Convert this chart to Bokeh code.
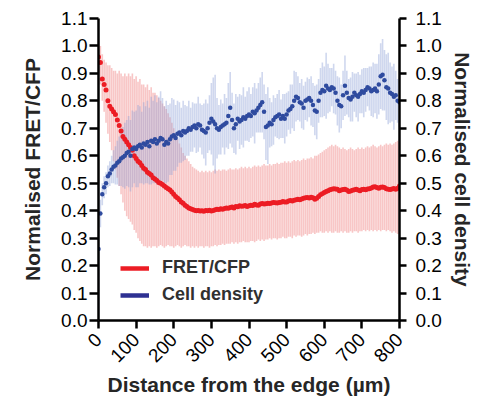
import numpy as np
from math import pi
from bokeh.plotting import figure
from bokeh.models import (LinearAxis, FixedTicker, PrintfTickFormatter, Range1d,
                          Legend, LegendItem, ColumnDataSource)
from bokeh.embed import file_html
from bokeh.resources import INLINE

# ---------------- data ----------------
distance_um = list(range(0, 805, 5))

fret_mean = [
    0.96, 0.94, 0.88, 0.86, 0.84, 0.80, 0.78, 0.77, 0.76, 0.75,
    0.73, 0.71, 0.69, 0.67, 0.66, 0.65, 0.64, 0.63, 0.62, 0.60,
    0.59, 0.58, 0.575, 0.565, 0.555, 0.55, 0.54, 0.535, 0.53, 0.52,
    0.515, 0.51, 0.503, 0.50, 0.495, 0.49, 0.484, 0.48, 0.475, 0.468,
    0.46, 0.452, 0.446, 0.44, 0.432, 0.427, 0.42, 0.415, 0.41, 0.407,
    0.404, 0.402, 0.40, 0.401, 0.399, 0.40, 0.398, 0.401, 0.40, 0.402,
    0.399, 0.401, 0.403, 0.405, 0.404, 0.407, 0.405, 0.408, 0.41, 0.409,
    0.412, 0.413, 0.41, 0.415, 0.414, 0.418, 0.416, 0.417, 0.419, 0.415,
    0.418, 0.42, 0.419, 0.423, 0.421, 0.42, 0.424, 0.426, 0.424, 0.425,
    0.427, 0.426, 0.428, 0.43, 0.429, 0.428, 0.43, 0.431, 0.433, 0.432,
    0.432, 0.435, 0.437, 0.435, 0.438, 0.44, 0.442, 0.44, 0.443, 0.445,
    0.447, 0.448, 0.446, 0.449, 0.447, 0.442, 0.445, 0.452, 0.458, 0.462,
    0.466, 0.47, 0.473, 0.476, 0.478, 0.48, 0.479, 0.478, 0.473, 0.475,
    0.477, 0.478, 0.475, 0.47, 0.472, 0.474, 0.476, 0.478, 0.475, 0.473,
    0.477, 0.478, 0.476, 0.479, 0.48, 0.483, 0.486, 0.487, 0.484, 0.482,
    0.485, 0.486, 0.484, 0.48, 0.478, 0.477, 0.479, 0.481, 0.478, 0.482,
    0.49,
]

fret_upper = [
    1.02, 1.00, 0.97, 0.95, 0.94, 0.93, 0.93, 0.92, 0.91, 0.91,
    0.90, 0.91, 0.90, 0.89, 0.90, 0.89, 0.90, 0.89, 0.90, 0.88,
    0.89, 0.87, 0.88, 0.86, 0.86, 0.85, 0.86, 0.84, 0.85, 0.83,
    0.83, 0.82, 0.81, 0.80, 0.79, 0.78, 0.77, 0.755, 0.74, 0.72,
    0.70, 0.68, 0.66, 0.645, 0.63, 0.61, 0.60, 0.59, 0.58, 0.57,
    0.56, 0.555, 0.55, 0.545, 0.54, 0.545, 0.54, 0.545, 0.54, 0.545,
    0.54, 0.545, 0.55, 0.545, 0.55, 0.545, 0.55, 0.55, 0.545, 0.55,
    0.555, 0.55, 0.55, 0.555, 0.55, 0.555, 0.56, 0.555, 0.56, 0.555,
    0.56, 0.555, 0.56, 0.565, 0.56, 0.565, 0.56, 0.565, 0.57, 0.565,
    0.565, 0.57, 0.565, 0.57, 0.57, 0.575, 0.57, 0.575, 0.575, 0.58,
    0.575, 0.58, 0.575, 0.58, 0.585, 0.58, 0.585, 0.58, 0.585, 0.59,
    0.585, 0.59, 0.59, 0.595, 0.59, 0.60, 0.60, 0.605, 0.61, 0.615,
    0.62, 0.625, 0.63, 0.635, 0.64, 0.635, 0.64, 0.635, 0.63, 0.625,
    0.63, 0.625, 0.62, 0.625, 0.63, 0.625, 0.62, 0.625, 0.63, 0.625,
    0.63, 0.625, 0.63, 0.635, 0.63, 0.635, 0.64, 0.635, 0.63, 0.635,
    0.64, 0.635, 0.64, 0.645, 0.64, 0.645, 0.64, 0.645, 0.65, 0.655,
    0.66,
]

fret_lower = [
    0.90, 0.86, 0.80, 0.76, 0.72, 0.68, 0.65, 0.62, 0.58, 0.55,
    0.52, 0.49, 0.46, 0.43, 0.40, 0.38, 0.37, 0.36, 0.35, 0.33,
    0.32, 0.30, 0.29, 0.28, 0.27, 0.27, 0.265, 0.27, 0.265, 0.27,
    0.27, 0.265, 0.27, 0.275, 0.27, 0.265, 0.27, 0.275, 0.27, 0.27,
    0.265, 0.27, 0.275, 0.27, 0.265, 0.27, 0.275, 0.27, 0.27, 0.265,
    0.27, 0.265, 0.27, 0.265, 0.27, 0.27, 0.265, 0.27, 0.27, 0.265,
    0.27, 0.27, 0.275, 0.27, 0.275, 0.275, 0.28, 0.275, 0.28, 0.28,
    0.28, 0.285, 0.28, 0.285, 0.28, 0.285, 0.285, 0.29, 0.285, 0.285,
    0.285, 0.29, 0.29, 0.285, 0.29, 0.295, 0.29, 0.295, 0.29, 0.295,
    0.295, 0.30, 0.295, 0.30, 0.30, 0.295, 0.30, 0.30, 0.305, 0.30,
    0.30, 0.305, 0.305, 0.30, 0.31, 0.305, 0.31, 0.31, 0.305, 0.31,
    0.315, 0.31, 0.315, 0.315, 0.32, 0.315, 0.32, 0.32, 0.325, 0.32,
    0.32, 0.325, 0.32, 0.325, 0.32, 0.32, 0.325, 0.32, 0.32, 0.325,
    0.32, 0.325, 0.32, 0.32, 0.325, 0.32, 0.325, 0.325, 0.32, 0.325,
    0.325, 0.33, 0.325, 0.33, 0.325, 0.33, 0.325, 0.33, 0.325, 0.33,
    0.325, 0.33, 0.33, 0.325, 0.33, 0.325, 0.32, 0.325, 0.32, 0.315,
    0.315,
]

density_mean = [
    0.26, 0.39, 0.46, 0.485, 0.50, 0.525, 0.535, 0.55, 0.56, 0.565,
    0.575, 0.58, 0.59, 0.595, 0.60, 0.61, 0.615, 0.60, 0.625, 0.63,
    0.625, 0.635, 0.64, 0.63, 0.645, 0.64, 0.65, 0.635, 0.655, 0.65,
    0.66, 0.645, 0.655, 0.665, 0.66, 0.64, 0.65, 0.645, 0.66, 0.67,
    0.675, 0.665, 0.68, 0.685, 0.675, 0.69, 0.685, 0.69, 0.70, 0.695,
    0.705, 0.71, 0.70, 0.715, 0.71, 0.695, 0.69, 0.685, 0.70, 0.72,
    0.735, 0.725, 0.715, 0.70, 0.695, 0.705, 0.71, 0.715, 0.72, 0.745,
    0.775, 0.73, 0.70, 0.715, 0.735, 0.725, 0.73, 0.74, 0.735, 0.745,
    0.75, 0.745, 0.76, 0.755, 0.765, 0.775, 0.785, 0.795, 0.76, 0.705,
    0.71, 0.72, 0.715, 0.73, 0.74, 0.745, 0.75, 0.735, 0.745, 0.735,
    0.75, 0.765, 0.77, 0.78, 0.80, 0.815, 0.81, 0.795, 0.79, 0.775,
    0.80, 0.805, 0.81, 0.80, 0.785, 0.765, 0.76, 0.80, 0.83, 0.84,
    0.835, 0.855, 0.845, 0.84, 0.85, 0.845, 0.83, 0.80, 0.785, 0.78,
    0.82, 0.855, 0.83, 0.81, 0.805, 0.815, 0.83, 0.82, 0.815, 0.825,
    0.835, 0.83, 0.84, 0.85, 0.845, 0.835, 0.84, 0.845, 0.835, 0.86,
    0.89, 0.895, 0.875, 0.85, 0.845, 0.83, 0.825, 0.815, 0.82, 0.80,
    0.795,
]

density_sd = [
    0.25, 0.05, 0.04, 0.04, 0.04, 0.04, 0.045, 0.05, 0.06, 0.07,
    0.08, 0.09, 0.10, 0.11, 0.12, 0.12, 0.13, 0.13, 0.14, 0.13,
    0.14, 0.15, 0.14, 0.13, 0.15, 0.14, 0.15, 0.14, 0.16, 0.15,
    0.16, 0.15, 0.16, 0.17, 0.15, 0.14, 0.15, 0.14, 0.13, 0.14,
    0.13, 0.12, 0.12, 0.11, 0.10, 0.11, 0.10, 0.09, 0.10, 0.08,
    0.09, 0.08, 0.09, 0.10, 0.08, 0.09, 0.10, 0.12, 0.09, 0.10,
    0.13, 0.16, 0.18, 0.11, 0.09, 0.10, 0.08, 0.11, 0.09, 0.12,
    0.13, 0.10, 0.09, 0.11, 0.08, 0.10, 0.09, 0.11, 0.08, 0.09,
    0.10, 0.08, 0.09, 0.11, 0.08, 0.09, 0.10, 0.11, 0.10, 0.12,
    0.14, 0.09, 0.08, 0.09, 0.07, 0.08, 0.09, 0.07, 0.08, 0.09,
    0.08, 0.07, 0.09, 0.08, 0.11, 0.09, 0.08, 0.07, 0.09, 0.08,
    0.07, 0.08, 0.07, 0.09, 0.08, 0.09, 0.10, 0.08, 0.09, 0.10,
    0.09, 0.12, 0.09, 0.08, 0.07, 0.09, 0.08, 0.09, 0.10, 0.08,
    0.09, 0.11, 0.08, 0.07, 0.08, 0.09, 0.07, 0.08, 0.09, 0.07,
    0.08, 0.09, 0.08, 0.07, 0.08, 0.09, 0.10, 0.09, 0.10, 0.11,
    0.12, 0.13, 0.11, 0.12, 0.13, 0.11, 0.10, 0.12, 0.09, 0.08,
    0.09,
]

x_ticks = [0, 100, 200, 300, 400, 500, 600, 700, 800]
y_ticks = [0.0, 0.1, 0.2, 0.3, 0.4, 0.5, 0.6, 0.7, 0.8, 0.9, 1.0, 1.1]
series_labels = ["FRET/CFP", "Cell density"]

# ---------------- styling ----------------
RED = "#ec1c24"
BLUE = "#2f4b9f"
LEG_BLUE = "#2e3192"
FONT = "Liberation Sans"

dm = np.array(density_mean)
dsd = np.array(density_sd)
src = ColumnDataSource(dict(
    x=distance_um,
    fm=fret_mean, flo=fret_lower, fhi=fret_upper,
    dm=density_mean, dlo=list(dm - dsd), dhi=list(dm + dsd),
))

p = figure(width=477, height=400, output_backend="svg", toolbar_location=None,
           x_range=Range1d(0, 800), y_range=Range1d(0, 1.1),
           min_border_left=98, min_border_right=78,
           min_border_top=18, min_border_bottom=80,
           x_axis_label="Distance from the edge (\u00b5m)",
           y_axis_label="Normalised FRET/CFP")
p.grid.visible = False
p.outline_line_color = None
p.background_fill_color = "white"
p.border_fill_color = "white"

# error bands as dense vertical bars
p.segment(x0="x", y0="flo", x1="x", y1="fhi", source=src,
          line_color="#f4a0a0", line_alpha=0.6, line_width=1.6)
p.segment(x0="x", y0="dlo", x1="x", y1="dhi", source=src,
          line_color="#8c9fd6", line_alpha=0.42, line_width=1.6)
# means
p.scatter(x="x", y="fm", source=src, size=5, color=RED, line_width=0)
p.scatter(x="x", y="dm", source=src, size=4.5, color=BLUE, line_width=0)

# legend swatches (renderers without visible data)
nan_src = ColumnDataSource(dict(x=[np.nan], y=[np.nan]))
leg_r = p.line(x="x", y="y", source=nan_src, line_color=RED, line_width=4.5)
leg_b = p.line(x="x", y="y", source=nan_src, line_color=LEG_BLUE, line_width=4.5)
legend = Legend(items=[LegendItem(label=series_labels[0], renderers=[leg_r]),
                       LegendItem(label=series_labels[1], renderers=[leg_b])],
                location=(22, 15), orientation="vertical",
                border_line_color=None, background_fill_alpha=0,
                padding=0, margin=0, spacing=6,
                glyph_width=29, glyph_height=20, label_height=20,
                label_standoff=13, label_text_font=FONT,
                label_text_font_style="bold", label_text_font_size="18px",
                label_text_color="#303030")
p.add_layout(legend)

yr = LinearAxis(axis_label="Normalised cell density")
p.add_layout(yr, "right")


def style_axis(ax, tick_out, standoff, label_standoff):
    ax.axis_line_width = 2.5
    ax.axis_line_color = "black"
    ax.major_tick_line_width = 2.5
    ax.major_tick_line_color = "black"
    ax.major_tick_in = 0
    ax.major_tick_out = tick_out
    ax.minor_tick_line_color = None
    ax.major_label_standoff = standoff
    ax.major_label_text_font = FONT
    ax.major_label_text_font_size = "19px"
    ax.major_label_text_color = "black"
    ax.axis_label_standoff = label_standoff
    ax.axis_label_text_font = FONT
    ax.axis_label_text_font_style = "bold"
    ax.axis_label_text_font_size = "21px"
    ax.axis_label_text_color = "#262626"


for ax in p.yaxis:
    ax.ticker = FixedTicker(ticks=y_ticks)
    ax.formatter = PrintfTickFormatter(format="%.1f")
style_axis(p.yaxis[0], 9, 2, 14)
style_axis(yr, 7, 9, 6)

xa = p.xaxis[0]
xa.ticker = FixedTicker(ticks=x_ticks)
style_axis(xa, 8, 8, 2)
xa.major_label_orientation = pi / 4

open("out.html", "w").write(file_html(p, INLINE))
